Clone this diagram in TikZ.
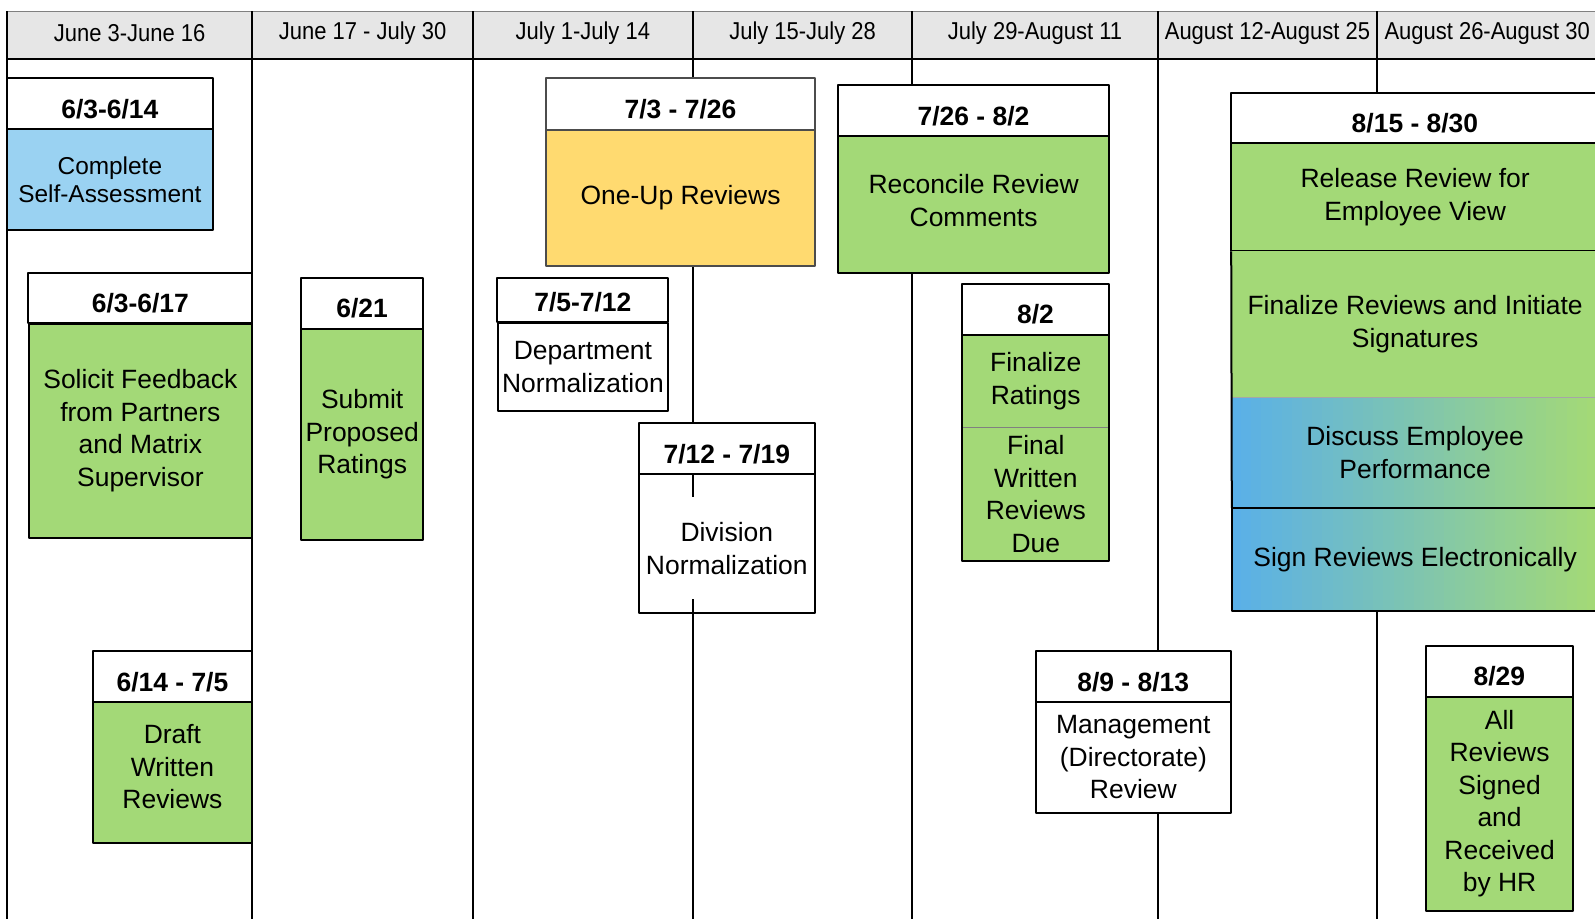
\documentclass[tikz,border=0pt]{standalone}
\usepackage{fontspec}
\setmainfont{Liberation Sans}
\newfontfamily\hdrfont[FakeStretch=0.9]{Liberation Sans}
\usetikzlibrary{positioning}
\definecolor{hdrgray}{HTML}{E6E6E6}
\definecolor{taskgreen}{HTML}{A3D977}
\definecolor{taskblue}{HTML}{9AD2F2}
\definecolor{taskyellow}{HTML}{FFDA70}
\definecolor{gradblue}{HTML}{5AB0E8}
\begin{document}
\begin{tikzpicture}[x=1pt,y=-1pt, scale=1.0172, transform shape, line join=round,
	col/.style={line width=2pt},
	hdr/.style={font=\hdrfont\fontsize{24}{28}\selectfont},
	ttl/.style={draw=black, line width=2pt, fill=white, anchor=north west, inner sep=0pt, outer sep=0pt, minimum height=50pt, text height=28.6pt, text depth=0pt, font=\bfseries\fontsize{26}{32}\selectfont},
	bdy/.style={draw=black, line width=2pt, fill=taskgreen, align=center, inner sep=0pt, outer sep=0pt, font=\fontsize{26}{32}\selectfont},
	txt/.style={align=center, inner sep=0pt, font=\fontsize{26}{32}\selectfont}]
	\useasboundingbox (0,0) rectangle (1568,902.5);
	\begin{scope}
	\clip (0,0) rectangle (1568,902.5);
	% header band
	\fill[hdrgray] (7,11) rectangle (1600,58);
	\draw[gray, thin] (7,11) -- (1600,11);
	\foreach \cx in {7,248,465,681,897,1138,1354}
		\draw[col] (\cx,11) -- (\cx,925);
	\draw[line width=2pt] (7,58) -- (1600,58);
	\foreach \cx/\lbl [count=\i] in {127.5/June 3-June 16, 356.5/June 17 - July 30, 573/July 1-July 14, 789/July 15-July 28, 1017.5/July 29-August 11, 1246/August 12-August 25, 1462/August 26-August 30}
		\node[hdr] (h\i) at (\cx,33) {\lbl};
	% June 3 - June 16
	\node[ttl, minimum width=202pt] (sat) at (7,77) {6/3-6/14};
	\node[bdy, fill=taskblue, minimum width=202pt, minimum height=99pt, below=0pt of sat, font=\fontsize{24}{28}\selectfont] (sab) {Complete\\Self-Assessment};
	\node[ttl, minimum width=220pt] (sft) at (28,268) {6/3-6/17};
	\node[bdy, minimum width=220pt, minimum height=211pt, below=0pt of sft] (sfb) {Solicit Feedback\\from Partners\\and Matrix\\Supervisor};
	\node[ttl, minimum width=157pt] (dwt) at (91,640) {6/14 - 7/5};
	\node[bdy, minimum width=157pt, minimum height=139pt, below=0pt of dwt, text depth=12pt] (dwb) {Draft\\Written\\Reviews};
	% June 17 - July 30
	\node[ttl, minimum width=120pt] (spt) at (296,273) {6/21};
	\node[bdy, minimum width=120pt, minimum height=208pt, below=0pt of spt] (spb) {Submit\\Proposed\\Ratings};
	% July 1 - July 28
	\node[ttl, draw=black!70, minimum width=264pt, minimum height=51pt] (out) at (537,77) {7/3 - 7/26};
	\node[bdy, draw=black!70, fill=taskyellow, minimum width=264pt, minimum height=133pt, below=0pt of out] (oub) {One-Up Reviews};
	\node[ttl, minimum width=168pt, minimum height=44pt, text height=22.6pt] (dnt) at (489,273) {7/5-7/12};
	\node[bdy, fill=white, minimum width=168pt, minimum height=87pt, below=0pt of dnt] (dnb) {Department\\Normalization};
	\node[ttl, minimum width=173pt] (dvt) at (628,416) {7/12 - 7/19};
	\node[bdy, fill=none, minimum width=173pt, minimum height=137pt, below=0pt of dvt] (dvb) {};
	\node[txt, fill=white, minimum width=169pt, minimum height=100pt] (dvx) at (714.5,539) {Division\\Normalization};
	% July 29 - August 11
	\node[ttl, minimum width=266pt] (rct) at (824,84) {7/26 - 8/2};
	\node[bdy, minimum width=266pt, minimum height=134pt, below=0pt of rct, text depth=8pt] (rcb) {Reconcile Review\\Comments};
	\node[ttl, minimum width=144pt] (frt) at (946,279) {8/2};
	\node[bdy, draw=none, minimum width=144pt, minimum height=91pt, below=0pt of frt] (fra) {Finalize\\Ratings};
	\node[bdy, draw=none, minimum width=144pt, minimum height=131pt, below=0pt of fra] (frb) {Final\\Written\\Reviews\\Due};
	\draw[gray, thin] (fra.south west) -- (fra.south east);
	\draw[line width=2pt] (frt.south west) rectangle (frb.south east);
	\node[ttl, minimum width=192pt] (mgt) at (1018,640) {8/9 - 8/13};
	\node[bdy, fill=white, minimum width=192pt, minimum height=109pt, below=0pt of mgt] (mgb) {Management\\(Directorate)\\Review};
	% August 12 - August 30
	\foreach \i [evaluate=\i as \p using {100-\i*100/35}] in {0,...,38}
		\fill[gradblue!\p!taskgreen] (1210+10*\i,390) rectangle (1220.6+10*\i,600);
	\node[ttl, minimum width=390pt] (rvt) at (1210,91) {};
	\node[font=\bfseries\fontsize{26}{32}\selectfont, inner sep=0pt] (rvx) at (1391,121) {8/15 - 8/30};
	\node[bdy, minimum width=390pt, minimum height=106pt, below=0pt of rvt] (rel) {};
	\node[bdy, draw=none, minimum width=390pt, minimum height=143pt, below=0pt of rel] (fin) {};
	\node[bdy, draw=none, fill=none, minimum width=390pt, minimum height=109pt, below=0pt of fin] (disc) {};
	\node[bdy, fill=none, minimum width=390pt, minimum height=101pt, below=0pt of disc] (sign) {};
	\draw[gray!70, thin] (fin.south west) -- (fin.south east);
	\draw[line width=2pt] (rel.south west) -- (sign.north west);
	\node[txt] (relx) at (rel.center -| rvx) {Release Review for\\Employee View};
	\node[txt] (finx) at (fin.center -| rvx) {Finalize Reviews and Initiate\\Signatures};
	\node[txt] (discx) at (disc.center -| rvx) {Discuss Employee\\Performance};
	\node[txt] (signx) at (sign.center -| rvx) {Sign Reviews Electronically};
	\node[ttl, minimum width=144pt] (hrt) at (1402,635) {8/29};
	\node[bdy, minimum width=144pt, minimum height=210pt, below=0pt of hrt] (hrb) {All\\Reviews\\Signed\\and\\Received\\by HR};
	\end{scope}
\end{tikzpicture}
\end{document}
